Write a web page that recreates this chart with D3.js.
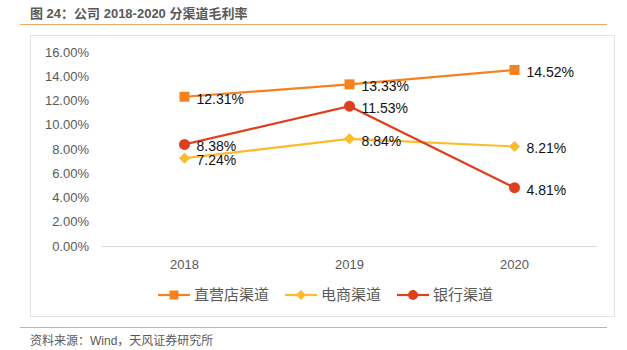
<!DOCTYPE html>
<html>
<head>
<meta charset="utf-8">
<script src="https://cdn.jsdelivr.net/npm/d3@7"></script>
<style>
  body { margin: 0; background: #fff; }
  text { font-family: "Liberation Sans", "Noto Sans CJK SC", sans-serif; }
</style>
</head>
<body>
<svg id="chart"></svg>
<script>
const years = ["2018", "2019", "2020"];
const seriesNames = ["直营店渠道", "电商渠道", "银行渠道"];
const directStore = [12.31, 13.33, 14.52];
const ecommerce = [7.24, 8.84, 8.21];
const bank = [8.38, 11.53, 4.81];
const yTicks = [0, 2, 4, 6, 8, 10, 12, 14, 16];

const W = 627, H = 350;
const svg = d3.select("#chart").attr("width", W).attr("height", H);

const colors = ["#f5821f", "#fbbb2b", "#df3f1d"];
const shapes = [d3.symbolSquare, d3.symbolSquare, d3.symbolCircle];
const sizes = [100, 60, 95];
const rotate = [0, 45, 0];
const series = [directStore, ecommerce, bank].map((v, i) => ({
  name: seriesNames[i], values: v, color: colors[i], shape: shapes[i], size: sizes[i], rot: rotate[i]
}));

// title
svg.append("text").attr("x", 30).attr("y", 18)
  .attr("font-size", "13px").attr("font-weight", "bold").attr("fill", "#595959")
  .text("图 24：公司 2018-2020 分渠道毛利率");
svg.append("line").attr("x1", 20).attr("x2", 607).attr("y1", 24.5).attr("y2", 24.5)
  .attr("stroke", "#f0a868").attr("stroke-width", 1.2);

// chart frame
svg.append("rect").attr("x", 30.5).attr("y", 35.5).attr("width", 584).attr("height", 281)
  .attr("fill", "none").attr("stroke", "#e4e4e4");

// source
svg.append("line").attr("x1", 20).attr("x2", 607).attr("y1", 327.5).attr("y2", 327.5)
  .attr("stroke", "#f0a868").attr("stroke-width", 1.2);
svg.append("text").attr("x", 30).attr("y", 345)
  .attr("font-size", "12px").attr("fill", "#595959")
  .text("资料来源：Wind，天风证券研究所");

const x = d3.scaleBand().domain(years).range([102, 597]);
const y = d3.scaleLinear().domain([0, 16]).range([246, 52]);
const cx = d => x(d) + x.bandwidth() / 2;

// y axis labels
svg.append("g").selectAll("text").data(yTicks).join("text")
  .attr("x", 89).attr("y", d => y(d)).attr("dy", "0.35em")
  .attr("text-anchor", "end").attr("font-size", "13px").attr("fill", "#595959")
  .text(d => d.toFixed(2) + "%");

// x axis
svg.append("line").attr("x1", 102).attr("x2", 597).attr("y1", 246.5).attr("y2", 246.5)
  .attr("stroke", "#d9d9d9").attr("stroke-width", 1.2);
svg.append("g").selectAll("text").data(years).join("text")
  .attr("x", d => cx(d)).attr("y", 269)
  .attr("text-anchor", "middle").attr("font-size", "13px").attr("fill", "#595959")
  .text(d => d);

const line = d3.line().x((d, i) => cx(years[i])).y(d => y(d));

series.forEach(s => {
  const g = svg.append("g");
  g.append("path").attr("d", line(s.values)).attr("fill", "none")
    .attr("stroke", s.color).attr("stroke-width", 2.2);
  g.selectAll("path.m").data(s.values).join("path").attr("class", "m")
    .attr("transform", (d, i) => `translate(${cx(years[i])},${y(d)}) rotate(${s.rot})`)
    .attr("d", d3.symbol(s.shape, s.size)).attr("fill", s.color);
  g.selectAll("text").data(s.values).join("text")
    .attr("x", (d, i) => cx(years[i]) + 12).attr("y", d => y(d) + 2)
    .attr("dy", "0.35em").attr("font-size", "14px").attr("fill", "#111")
    .text(d => d.toFixed(2) + "%");
});

// legend
const legendX = [158, 285, 397];
series.forEach((s, i) => {
  const g = svg.append("g").attr("transform", `translate(${legendX[i]},295)`);
  g.append("line").attr("x1", 0).attr("x2", 32).attr("stroke", s.color).attr("stroke-width", 2.2);
  g.append("path").attr("transform", `translate(16,0) rotate(${s.rot})`)
    .attr("d", d3.symbol(s.shape, s.size * 0.8)).attr("fill", s.color);
  g.append("text").attr("x", 36).attr("dy", "0.35em")
    .attr("font-size", "15px").attr("fill", "#595959").text(s.name);
});
</script>
</body>
</html>
